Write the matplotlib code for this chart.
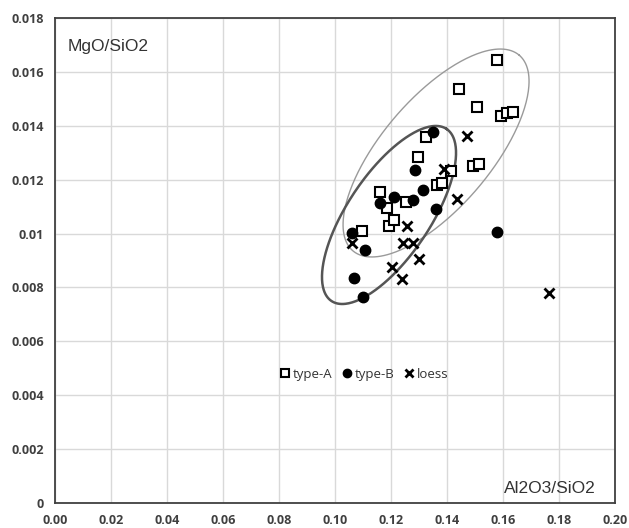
import numpy as np
import matplotlib
matplotlib.use('Agg')
import matplotlib.pyplot as plt

# type-A (open squares)
a_x = [0.1577, 0.1444, 0.1508, 0.1592, 0.1613, 0.1635, 0.1325, 0.1295, 0.1415,
       0.1494, 0.1514, 0.1365, 0.1382, 0.1161, 0.1186, 0.1252, 0.1194, 0.1211, 0.1098]
a_y = [0.01644, 0.01536, 0.01471, 0.01435, 0.01446, 0.01451, 0.01359, 0.01285, 0.01233,
       0.01251, 0.01258, 0.01181, 0.01188, 0.01155, 0.01095, 0.01118, 0.01028, 0.01050, 0.01011]

# type-B (filled circles)
b_x = [0.1351, 0.1285, 0.1315, 0.1211, 0.1162, 0.1277, 0.1360, 0.1060, 0.1107,
       0.1068, 0.1099, 0.1577]
b_y = [0.01378, 0.01236, 0.01162, 0.01134, 0.01114, 0.01124, 0.01090, 0.01003, 0.00939,
       0.00834, 0.00763, 0.01005]

# loess (crosses)
l_x = [0.1470, 0.1389, 0.1435, 0.1256, 0.1244, 0.1277, 0.1062, 0.1301, 0.1205, 0.1240, 0.1764]
l_y = [0.01362, 0.01238, 0.01128, 0.01028, 0.00966, 0.00964, 0.00966, 0.00904, 0.00875, 0.00830, 0.00779]

x_ticks = [0.00, 0.02, 0.04, 0.06, 0.08, 0.10, 0.12, 0.14, 0.16, 0.18, 0.20]
y_ticks = [0, 0.002, 0.004, 0.006, 0.008, 0.010, 0.012, 0.014, 0.016, 0.018]
y_labels = ['0', '0.002', '0.004', '0.006', '0.008', '0.01', '0.012', '0.014', '0.016', '0.018']

# ellipses: centre (data), semi axes (px), angle (deg, on screen)
ell_inner = (0.1193, 0.01069, 103.5, 41.3, 56.2)
ell_outer = (0.1361, 0.01299, 128.4, 54.5, 49.6)

fig = plt.figure(figsize=(6.29, 5.28), dpi=100)
ax = fig.add_axes([0.0874, 0.0473, 0.8903, 0.9186])
ax.set_xlim(0, 0.20)
ax.set_ylim(0, 0.018)
ax.set_xticks(x_ticks)
ax.set_xticklabels(['%.2f' % v for v in x_ticks])
ax.set_yticks(y_ticks)
ax.set_yticklabels(y_labels)
ax.grid(True, color='#d9d9d9', lw=1)
ax.set_axisbelow(True)
ax.tick_params(length=0, labelsize=9, labelcolor='#404040', pad=8)
for lab in ax.get_xticklabels() + ax.get_yticklabels():
    lab.set_fontweight('bold')
    lab.set_family('Open Sans')
for s in ax.spines.values():
    s.set_color('#404040')
    s.set_linewidth(1.3)

ax.plot(a_x, a_y, 's', ms=7.5, mfc='white', mec='black', mew=1.5, ls='none', label='type-A', zorder=3)
ax.plot(b_x, b_y, 'o', ms=7.5, mfc='black', mec='black', ls='none', label='type-B', zorder=3)
ax.plot(l_x, l_y, 'x', ms=7, mec='black', mew=2, ls='none', label='loess', zorder=3)

# draw ellipses in screen pixels, converted back to data coordinates
def draw_ellipse(params, color, lw):
    cx, cy, a, b, ang = params
    t = np.linspace(0, 2 * np.pi, 300)
    th = np.radians(ang)
    dx = a * np.cos(t) * np.cos(th) - b * np.sin(t) * np.sin(th)
    dy = a * np.cos(t) * np.sin(th) + b * np.sin(t) * np.cos(th)
    c = ax.transData.transform((cx, cy))
    pts = ax.transData.inverted().transform(np.column_stack([c[0] + dx, c[1] + dy]))
    ax.plot(pts[:, 0], pts[:, 1], color=color, lw=lw, zorder=2)

draw_ellipse(ell_outer, '#9a9a9a', 1.0)
draw_ellipse(ell_inner, '#555555', 1.8)

ax.text(0.023, 0.957, 'MgO/SiO2', transform=ax.transAxes, fontsize=12.5,
        family='Liberation Sans', color='#333333', va='top', ha='left')
ax.text(0.965, 0.015, 'Al2O3/SiO2', transform=ax.transAxes, fontsize=12.5,
        family='Liberation Sans', color='#333333', va='bottom', ha='right')

leg = ax.legend(loc='center', bbox_to_anchor=(0.55, 0.265), ncol=3, frameon=False,
                fontsize=9.5, handletextpad=0.0, columnspacing=0.6, markerscale=0.8,
                handlelength=1.1, borderaxespad=0)
for t in leg.get_texts():
    t.set_color('#333333')
    t.set_family('Open Sans')

fig.savefig('out.png', dpi=100)
